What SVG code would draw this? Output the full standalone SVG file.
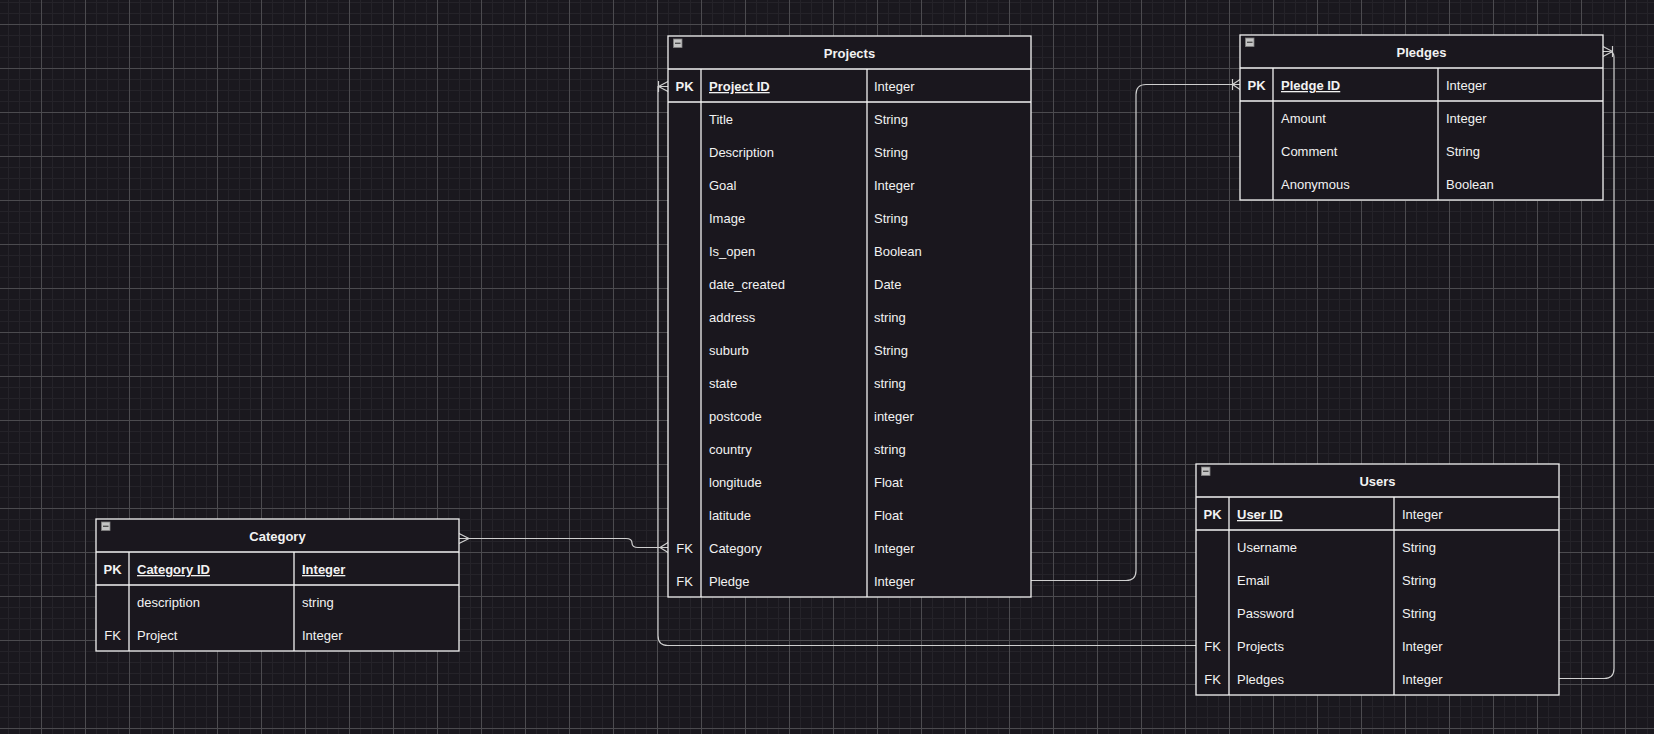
<svg xmlns="http://www.w3.org/2000/svg" width="1654" height="734" viewBox="0 0 1654 734">
<style>
text{font-family:"Liberation Sans",Arial,Helvetica,sans-serif;font-size:13px;fill:#f2f2f2}
.h{font-weight:bold;text-anchor:middle}
.b{font-weight:bold}
.u{font-weight:bold;text-decoration:underline}
.c{text-anchor:middle}
.tb{fill:#1a171e;stroke:#f2f2f2;stroke-width:1.3}
.ln{stroke:#f2f2f2;stroke-width:1.3;fill:none}
.ic{fill:#c4c4c4;stroke:#808080;stroke-width:0.8}
.im{stroke:#505050;stroke-width:1.4}
.cn{fill:none;stroke:#cfcfcf;stroke-width:1.2}
</style>
<defs>
<pattern id="g" x="41" y="24" width="44" height="44" patternUnits="userSpaceOnUse">
<rect width="44" height="44" fill="#1a181e"/>
<rect x="11" width="1" height="44" fill="#252329"/>
<rect x="22" width="1" height="44" fill="#252329"/>
<rect x="33" width="1" height="44" fill="#252329"/>
<rect y="11" width="44" height="1" fill="#252329"/>
<rect y="22" width="44" height="1" fill="#252329"/>
<rect y="33" width="44" height="1" fill="#252329"/>
<rect width="1" height="44" fill="#4c4b4f"/>
<rect width="44" height="1" fill="#4c4b4f"/>
</pattern>
</defs>
<rect width="1654" height="734" fill="url(#g)"/>

<g id="connectors">
<path class="cn" d="M459,538.5 H626 Q632,538.5 632,543 Q632,547.5 638,547.5 H668"/>
<path class="cn" d="M469,538.5 L459,533.5 M469,538.5 L459,543.5"/>
<path class="cn" d="M660,547.5 L668,542.5 M660,547.5 L668,552.5"/>

<path class="cn" d="M1196,645.5 H668 Q658,645.5 658,635.5 V86.5 H668"/>
<path class="cn" d="M658.5,86.5 L668,81.5 M658.5,86.5 L668,91.5 M658.5,81 V92"/>

<path class="cn" d="M1031,580.5 H1126 Q1136,580.5 1136,570.5 V94.5 Q1136,84.5 1146,84.5 H1240"/>
<path class="cn" d="M1232.5,84.5 L1240,79.5 M1232.5,84.5 L1240,89.5 M1232.5,79 V90"/>

<path class="cn" d="M1559,678.5 H1604 Q1614,678.5 1614,668.5 V57 Q1614,51.5 1609,51.5 H1603"/>
<path class="cn" d="M1612.5,51.5 L1603,46.5 M1612.5,51.5 L1603,56.5 M1612.5,46 V57"/>
</g>

<g id="projects">
<rect class="tb" x="668" y="36" width="363" height="561"/>
<path class="ln" d="M668,69 H1031 M668,102 H1031 M701,69 V597 M867,69 V597"/>
<rect class="ic" x="673.5" y="39" width="8.5" height="8.5"/>
<line class="im" x1="675" y1="43.3" x2="680.5" y2="43.3"/>
<text class="h" x="849.5" y="57.5">Projects</text>
<text class="b c" x="684.5" y="91">PK</text>
<text class="u" x="709" y="91">Project ID</text>
<text x="874" y="91">Integer</text>
<text x="709" y="124">Title</text><text x="874" y="124">String</text>
<text x="709" y="157">Description</text><text x="874" y="157">String</text>
<text x="709" y="190">Goal</text><text x="874" y="190">Integer</text>
<text x="709" y="223">Image</text><text x="874" y="223">String</text>
<text x="709" y="256">Is_open</text><text x="874" y="256">Boolean</text>
<text x="709" y="289">date_created</text><text x="874" y="289">Date</text>
<text x="709" y="322">address</text><text x="874" y="322">string</text>
<text x="709" y="355">suburb</text><text x="874" y="355">String</text>
<text x="709" y="388">state</text><text x="874" y="388">string</text>
<text x="709" y="421">postcode</text><text x="874" y="421">integer</text>
<text x="709" y="454">country</text><text x="874" y="454">string</text>
<text x="709" y="487">longitude</text><text x="874" y="487">Float</text>
<text x="709" y="520">latitude</text><text x="874" y="520">Float</text>
<text class="c" x="684.5" y="553">FK</text><text x="709" y="553">Category</text><text x="874" y="553">Integer</text>
<text class="c" x="684.5" y="586">FK</text><text x="709" y="586">Pledge</text><text x="874" y="586">Integer</text>
</g>

<g id="pledges">
<rect class="tb" x="1240" y="35" width="363" height="165"/>
<path class="ln" d="M1240,68 H1603 M1240,101 H1603 M1273,68 V200 M1438,68 V200"/>
<rect class="ic" x="1245.5" y="38" width="8.5" height="8.5"/>
<line class="im" x1="1247" y1="42.3" x2="1252.5" y2="42.3"/>
<text class="h" x="1421.5" y="56.5">Pledges</text>
<text class="b c" x="1256.5" y="90">PK</text>
<text class="u" x="1281" y="90">Pledge ID</text>
<text x="1446" y="90">Integer</text>
<text x="1281" y="123">Amount</text><text x="1446" y="123">Integer</text>
<text x="1281" y="156">Comment</text><text x="1446" y="156">String</text>
<text x="1281" y="189">Anonymous</text><text x="1446" y="189">Boolean</text>
</g>

<g id="users">
<rect class="tb" x="1196" y="464" width="363" height="231"/>
<path class="ln" d="M1196,497 H1559 M1196,530 H1559 M1229,497 V695 M1394,497 V695"/>
<rect class="ic" x="1201.5" y="467" width="8.5" height="8.5"/>
<line class="im" x1="1203" y1="471.3" x2="1208.5" y2="471.3"/>
<text class="h" x="1377.5" y="485.5">Users</text>
<text class="b c" x="1212.5" y="519">PK</text>
<text class="u" x="1237" y="519">User ID</text>
<text x="1402" y="519">Integer</text>
<text x="1237" y="552">Username</text><text x="1402" y="552">String</text>
<text x="1237" y="585">Email</text><text x="1402" y="585">String</text>
<text x="1237" y="618">Password</text><text x="1402" y="618">String</text>
<text class="c" x="1212.5" y="651">FK</text><text x="1237" y="651">Projects</text><text x="1402" y="651">Integer</text>
<text class="c" x="1212.5" y="684">FK</text><text x="1237" y="684">Pledges</text><text x="1402" y="684">Integer</text>
</g>

<g id="category">
<rect class="tb" x="96" y="519" width="363" height="132"/>
<path class="ln" d="M96,552 H459 M96,585 H459 M129,552 V651 M294,552 V651"/>
<rect class="ic" x="101.5" y="522" width="8.5" height="8.5"/>
<line class="im" x1="103" y1="526.3" x2="108.5" y2="526.3"/>
<text class="h" x="277.5" y="540.5">Category</text>
<text class="b c" x="112.5" y="574">PK</text>
<text class="u" x="137" y="574">Category ID</text>
<text class="u" x="302" y="574">Integer</text>
<text x="137" y="607">description</text><text x="302" y="607">string</text>
<text class="c" x="112.5" y="640">FK</text><text x="137" y="640">Project</text><text x="302" y="640">Integer</text>
</g>
</svg>
